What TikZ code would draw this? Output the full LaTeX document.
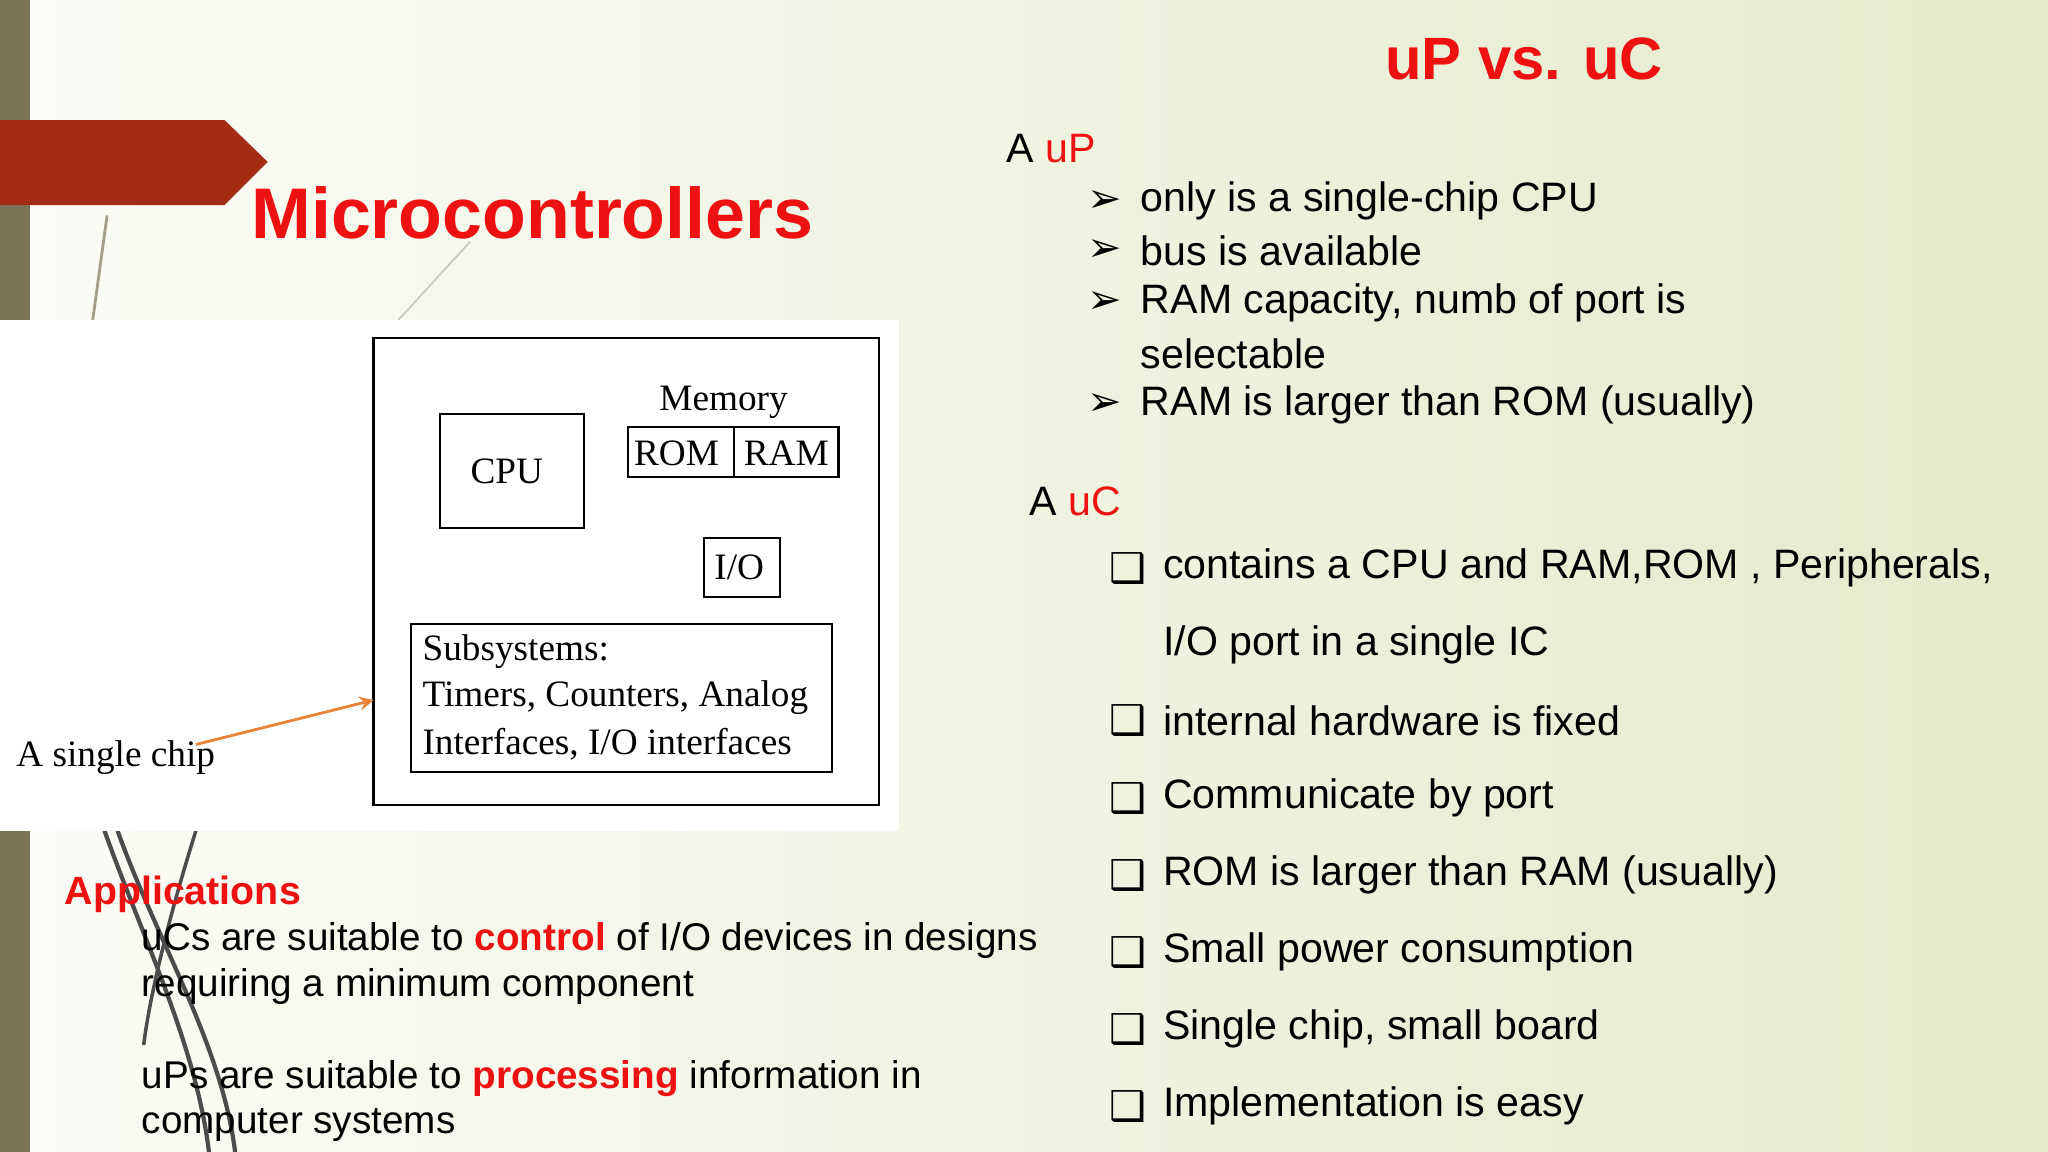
\documentclass[tikz,border=0pt]{standalone}
\usepackage{fontspec}
\setmainfont{Liberation Sans}
\newfontfamily\serifx{Liberation Serif}
\newfontfamily\dingx{DejaVu Sans}
\definecolor{bgA}{HTML}{FBFCF6}
\definecolor{bgB}{HTML}{E4EBCB}
\definecolor{olive}{HTML}{7B7558}
\definecolor{banner}{HTML}{A52C14}
\definecolor{redt}{HTML}{EE1111}
\definecolor{orng}{HTML}{E8833A}
\tikzset{
  body/.style={anchor=west,font=\fontsize{11.7}{14}\selectfont,inner sep=0pt},
  app/.style={anchor=west,font=\fontsize{11}{13}\selectfont,inner sep=0pt},
  dia/.style={font=\serifx\fontsize{10.6}{13}\selectfont,inner sep=0pt},
  boxx/.style={draw=black,line width=0.6pt},
}
\begin{document}
\begin{tikzpicture}[x=0.013061cm,y=-0.013061cm]
\useasboundingbox (0,0) rectangle (1568,882);
\shade[left color=bgA,right color=bgB] (0,0) rectangle (1568,882);
\fill[olive] (0,0) rectangle (23,245);
\fill[olive] (0,636) rectangle (23,882);
% decorative lines
\draw[olive!70,line width=0.8pt] (82,165) -- (71,245);
\draw[olive!40,line width=0.5pt] (360,185) -- (305,245);
\foreach \a/\b in {80/150,90/170}{
  \draw[black!70,line width=1.2pt] (\a,636) .. controls (\a+30,720) and (\b,800) .. (\b+10,882);}
\draw[black!70,line width=1pt] (150,636) .. controls (130,700) and (115,760) .. (110,800);
\fill[banner] (0,92) -- (172,92) -- (205,124) -- (172,157) -- (0,157) -- cycle;
\node[anchor=west,inner sep=0pt,text=redt,font=\bfseries\fontsize{20.4}{24}\selectfont] (title) at (192,163) {Microcontrollers};
\node[inner sep=0pt,text=redt,font=\bfseries\fontsize{17}{20}\selectfont] (vs) at (1167,45) {uP vs. uC};
% white panel
\fill[white] (0,245) rectangle (688,636);
\draw[boxx] (286,259) rectangle (673,616);
\draw[boxx] (337,317) rectangle (447,404);
\node[dia] (cpu) at (388,361) {CPU};
\node[dia] (mem) at (554,308) {Memory};
\draw[boxx] (481,327) rectangle (642,365);
\draw[boxx] (562,327) -- (562,365);
\node[dia] (rom) at (518,347) {ROM};
\node[dia] (ram) at (602,347) {RAM};
\draw[boxx] (539,412) rectangle (597,457);
\node[dia] (io) at (566,434) {I/O};
\draw[boxx] (315,478) rectangle (637,591);
\node[dia,anchor=west] (s1) at (323,499) {Subsystems:};
\node[dia,anchor=west] (s2) at (323,534) {Timers, Counters, Analog};
\node[dia,anchor=west] (s3) at (323,570) {Interfaces, I/O interfaces};
\node[dia,anchor=west] (chip) at (12,580) {A single chip};
\coordinate (tail) at (150,570);
\coordinate (tip) at (286,536);
\draw[orng,line width=0.8pt,-stealth] (tail) -- (tip);
% uP list
\node[body] (aup) at (770,114) {A \textcolor{redt}{uP}};
\foreach \y/\t in {154/{only is a single-chip CPU},192/{bus is available},232/{RAM capacity, numb of port is},310/{RAM is larger than ROM (usually)}}{
  \node[body] at (832,\y) {\dingx\bfseries ➢};
  \node[body] at (873,\y) {\t};}
\node[body] (sel) at (873,271) {selectable};
% uC list
\node[body] (auc) at (788,384) {A \textcolor{redt}{uC}};
\foreach \y/\t in {435/{contains a CPU and RAM,ROM , Peripherals,},552/{internal hardware is fixed},611/{Communicate by port},670/{ROM is larger than RAM (usually)},729/{Small power consumption},788/{Single chip, small board},847/{Implementation is easy}}{
  \node[body] at (849,\y) {\dingx\bfseries ❑};
  \node[body] at (890,\y) {\t};}
\node[body] (ioport) at (890,494) {I/O port in a single IC};
% applications
\node[app,text=redt,font=\bfseries\fontsize{11.2}{13}\selectfont] (apps) at (49,685) {Applications};
\node[app] (a1) at (108,720) {uCs are suitable to \textcolor{redt}{\bfseries control} of I/O devices in designs};
\node[app] (a2) at (108,755) {requiring a minimum component};
\node[app] (a3) at (108,826) {uPs are suitable to \textcolor{redt}{\bfseries processing} information in};
\node[app] (a4) at (108,861) {computer systems};
\end{tikzpicture}
\end{document}
